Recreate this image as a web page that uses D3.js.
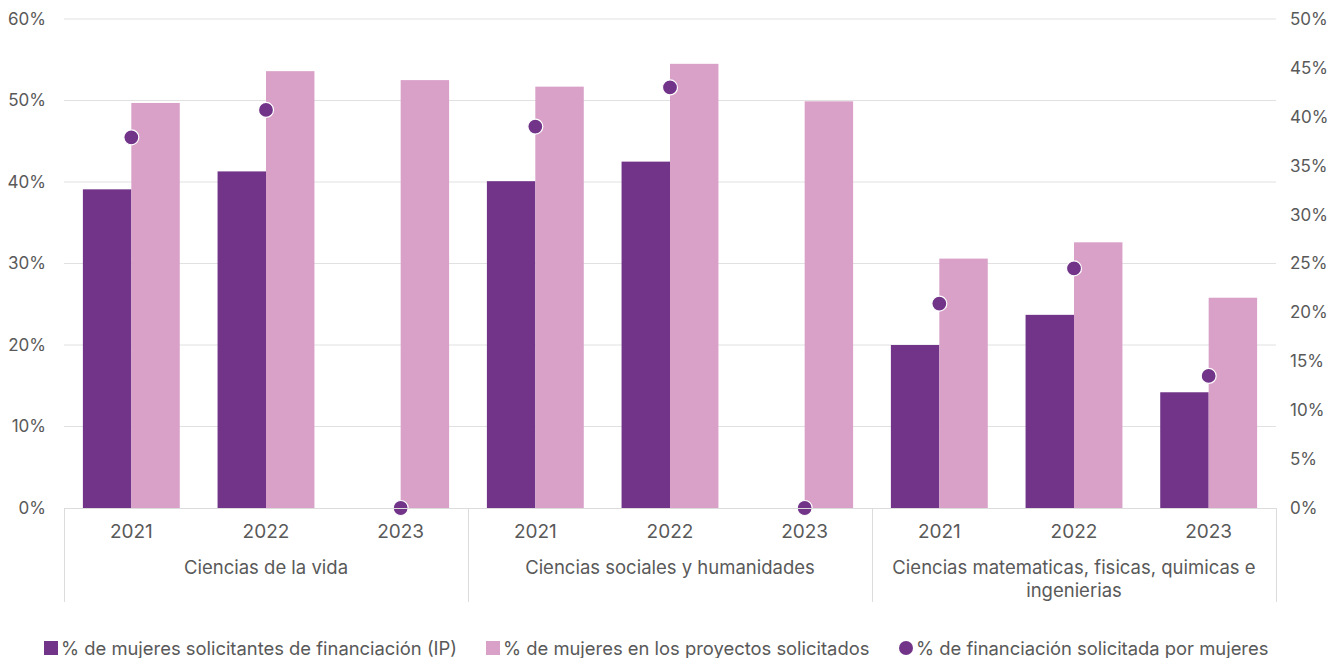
<!DOCTYPE html>
<html>
<head>
<meta charset="utf-8">
<script src="https://cdn.jsdelivr.net/npm/d3@7"></script>
<style>
  html, body { margin: 0; padding: 0; background: #fff; }
  svg text { font-family: Inter, "Noto Sans", sans-serif; fill: #595959; }
</style>
</head>
<body>
<svg id="chart" width="1334" height="658"></svg>
<script>
// Fields and years
const groups = ["Ciencias de la vida", "Ciencias sociales y humanidades", "Ciencias matematicas, fisicas, quimicas e ingenierias"];
const years = ["2021", "2022", "2023"];

// % de mujeres solicitantes de financiación (IP), per group then year
const ipShare = [
  [39.1, 41.3, 0],
  [40.1, 42.5, 0],
  [20.0, 23.7, 14.2]
];
// % de mujeres en los proyectos solicitados
const projectShare = [
  [49.7, 53.6, 52.5],
  [51.7, 54.5, 49.9],
  [30.6, 32.6, 25.8]
];
// % de financiación solicitada por mujeres (right axis)
const fundingShare = [
  [37.9, 40.7, 0],
  [39.0, 43.0, 0],
  [20.9, 24.5, 13.5]
];

const leftTicks = [0, 10, 20, 30, 40, 50, 60];
const rightTicks = [0, 5, 10, 15, 20, 25, 30, 35, 40, 45, 50];

const seriesNames = [
  "% de mujeres solicitantes de financiación (IP)",
  "% de mujeres en los proyectos solicitados",
  "% de financiación solicitada por mujeres"
];
const colDark = "#713489";
const colLight = "#d9a0c8";

const svg = d3.select("#chart");
const plotLeft = 64, plotRight = 1276, plotTop = 19, plotBottom = 508;

const yL = d3.scaleLinear().domain([0, 60]).range([plotBottom, plotTop]);
const yR = d3.scaleLinear().domain([0, 50]).range([plotBottom, plotTop]);

const xGroup = d3.scaleBand().domain(groups).range([plotLeft, plotRight]).padding(0);
const xYear = d3.scaleBand().domain(years).range([0, xGroup.bandwidth()]).padding(0);
const xSeries = d3.scaleBand().domain([0, 1]).range([0, xYear.bandwidth()]).paddingInner(0).paddingOuter(0.39);

// gridlines
svg.append("g").selectAll("line").data(leftTicks.slice(1)).join("line")
  .attr("x1", plotLeft).attr("x2", plotRight)
  .attr("y1", d => yL(d)).attr("y2", d => yL(d))
  .attr("stroke", "#e1e1e1").attr("stroke-width", 1);

// left axis
const axL = svg.append("g").attr("transform", `translate(${plotLeft},0)`)
  .call(d3.axisLeft(yL).tickValues(leftTicks).tickFormat(d => d + "%").tickSize(0).tickPadding(18));
axL.select(".domain").remove();
axL.selectAll("text").style("font-size", "17px").attr("fill", "#595959");

// right axis
const axR = svg.append("g").attr("transform", `translate(${plotRight},0)`)
  .call(d3.axisRight(yR).tickValues(rightTicks).tickFormat(d => d + "%").tickSize(0).tickPadding(14));
axR.select(".domain").remove();
axR.selectAll("text").style("font-size", "17px").attr("fill", "#595959");

// rows of flat data
const rows = [];
groups.forEach((g, gi) => years.forEach((y, yi) => rows.push({
  g, y, ip: ipShare[gi][yi], proj: projectShare[gi][yi], fund: fundingShare[gi][yi]
})));

const cell = svg.append("g").selectAll("g").data(rows).join("g")
  .attr("transform", d => `translate(${xGroup(d.g) + xYear(d.y)},0)`);

cell.append("rect")
  .attr("x", xSeries(0)).attr("width", xSeries.bandwidth())
  .attr("y", d => yL(d.ip)).attr("height", d => plotBottom - yL(d.ip))
  .attr("fill", colDark);
cell.append("rect")
  .attr("x", xSeries(1)).attr("width", xSeries.bandwidth())
  .attr("y", d => yL(d.proj)).attr("height", d => plotBottom - yL(d.proj))
  .attr("fill", colLight);

// baseline and category separators
svg.append("line").attr("x1", plotLeft).attr("x2", plotRight).attr("y1", plotBottom + 0.5).attr("y2", plotBottom + 0.5)
  .attr("stroke", "#dcdcdc");
const seps = groups.map(g => xGroup(g)).concat([plotRight]);
svg.append("g").selectAll("line").data(seps).join("line")
  .attr("x1", d => d + 0.5).attr("x2", d => d + 0.5)
  .attr("y1", plotBottom).attr("y2", 602)
  .attr("stroke", "#dcdcdc");

// dots
cell.append("circle")
  .attr("cx", xYear.bandwidth() / 2)
  .attr("cy", d => yR(d.fund))
  .attr("r", 7.5)
  .attr("fill", colDark).attr("stroke", "#fff").attr("stroke-width", 1.2);

// year labels
cell.append("text")
  .attr("x", xYear.bandwidth() / 2).attr("y", 538)
  .attr("text-anchor", "middle").style("font-size", "19px")
  .text(d => d.y);

// group labels (wrapped)
const wrapped = {
  "Ciencias matematicas, fisicas, quimicas e ingenierias": ["Ciencias matematicas, fisicas, quimicas e", "ingenierias"]
};
svg.append("g").selectAll("text").data(groups).join("text")
  .attr("x", d => xGroup(d) + xGroup.bandwidth() / 2)
  .attr("y", 574)
  .attr("text-anchor", "middle").style("font-size", "18.5px")
  .each(function(d) {
    const lines = wrapped[d] || [d];
    d3.select(this).selectAll("tspan").data(lines).join("tspan")
      .attr("x", xGroup(d) + xGroup.bandwidth() / 2)
      .attr("dy", (l, i) => i === 0 ? 0 : 23)
      .text(l => l);
  });

// legend
const legend = svg.append("g").attr("transform", "translate(0,648)");
const legendItems = [
  { name: seriesNames[0], type: "rect", color: colDark, x: 44 },
  { name: seriesNames[1], type: "rect", color: colLight, x: 486 },
  { name: seriesNames[2], type: "circle", color: colDark, x: 899 }
];
legendItems.forEach(it => {
  const g = legend.append("g").attr("transform", `translate(${it.x},0)`);
  if (it.type === "rect") {
    g.append("rect").attr("x", 0).attr("y", -7).attr("width", 14).attr("height", 14).attr("fill", it.color);
  } else {
    g.append("circle").attr("cx", 7).attr("cy", 0).attr("r", 7).attr("fill", it.color);
  }
  g.append("text").attr("x", 17).attr("y", 6.5).style("font-size", "18.4px").text(it.name);
});
</script>
</body>
</html>
